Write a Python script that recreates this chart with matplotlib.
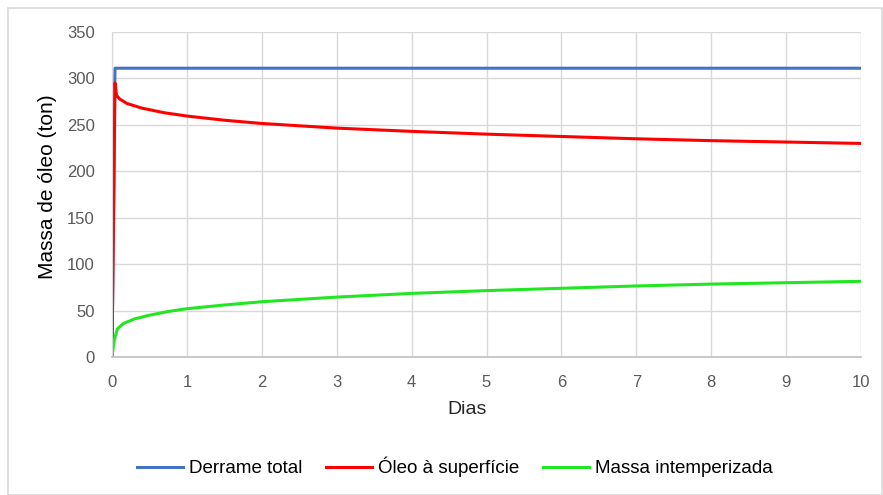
import matplotlib.pyplot as plt
from matplotlib.patches import Rectangle

plt.rcParams['font.family'] = ['Liberation Sans', 'DejaVu Sans']

# values (tons vs days)
t_total = [0, 0.04, 0.1, 1, 2, 3, 4, 5, 6, 7, 8, 9, 10]
derrame_total = [0, 311, 311, 311, 311, 311, 311, 311, 311, 311, 311, 311, 311]

t_sup = [0, 0.04, 0.06, 0.1, 0.2, 0.4, 0.7, 1, 1.5, 2, 3, 4, 5, 6, 7, 8, 9, 10]
oleo_superficie = [0, 295, 282, 278, 273, 268, 263, 259.5, 255, 251.5, 246.5, 243, 240, 237.5, 235, 233, 231.5, 230]

t_int = [0, 0.03, 0.07, 0.15, 0.3, 0.5, 0.75, 1, 1.5, 2, 3, 4, 5, 6, 7, 8, 9, 10]
massa_intemperizada = [0, 18, 30, 36, 41, 45, 49, 52, 56, 59.5, 64.5, 68.5, 71.5, 74, 76.5, 78.5, 80, 81.5]

fig = plt.figure(figsize=(8.83, 4.95), dpi=100)
ax = fig.add_axes([112 / 883, 1 - 357 / 495, 749 / 883, 325 / 495])

ax.plot(t_total, derrame_total, color="#4472C4", lw=2.2, label="Derrame total")
ax.plot(t_sup, oleo_superficie, color="#FF0000", lw=2.2, label="Óleo à superfície")
ax.plot(t_int, massa_intemperizada, color="#22E622", lw=2.2, label="Massa intemperizada")

ax.set_xlim(0, 10)
ax.set_ylim(0, 350)
ax.set_xticks(range(0, 11))
ax.set_yticks(range(0, 351, 50))
ax.grid(True, color="#D9D9D9", lw=1)
ax.set_axisbelow(True)
for s in ["top", "right"]:
    ax.spines[s].set_visible(False)
ax.spines["left"].set_color("#D9D9D9")
ax.spines["bottom"].set_color("#BFBFBF")
ax.spines["bottom"].set_linewidth(1.2)
ax.tick_params(length=0, labelsize=12, colors="#595959")
ax.tick_params(axis="x", pad=13)
ax.tick_params(axis="y", pad=12.5)

ax.set_xlabel("Dias", fontsize=14, color="#262626")
ax.xaxis.set_label_coords((467 - 112) / 749, -(410 - 357) / 325)
ax.xaxis.label.set_va("center")
ax.set_ylabel("Massa de óleo (ton)", fontsize=15, color="#000000")
ax.yaxis.set_label_coords(-(112 - 48) / 749, (357 - 187) / 325)
ax.yaxis.label.set_va("center")

fig.legend(loc="center", bbox_to_anchor=(455 / 883, 1 - 467 / 495), ncol=3, frameon=False,
           fontsize=13.5, handlelength=2.45, columnspacing=1.28, handletextpad=0.3)

fig.patches.append(Rectangle((8 / 883, 0), 874 / 883, 1 - 8 / 495, transform=fig.transFigure,
                             fill=False, edgecolor="#D9D9D9", lw=1.2))

fig.savefig("out.png", dpi=100)
